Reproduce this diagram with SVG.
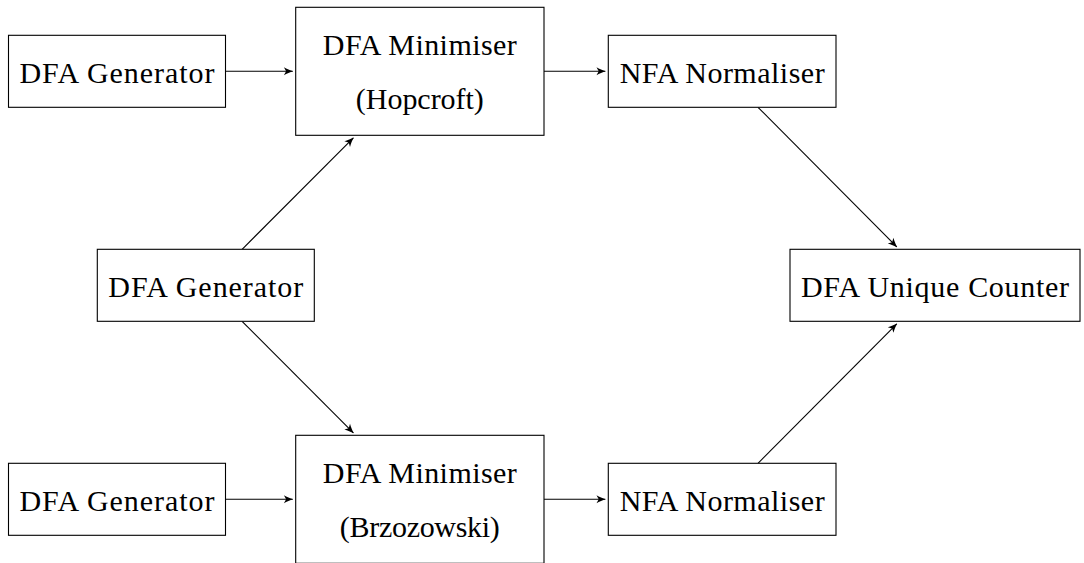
<svg xmlns="http://www.w3.org/2000/svg" width="1084" height="563" viewBox="0 0 1084 563">
  <style>
    .box { fill: #ffffff; stroke: #000000; stroke-width: 1.1; }
    .lbl { font-family: 'Liberation Serif', 'Times New Roman', serif; font-size: 30px; fill: #000000; text-anchor: middle; }
    .edge { fill: none; stroke: #000000; stroke-width: 1.1; marker-end: url(#tip); }
  </style>
  <defs>
    <!-- curved barb arrowhead, drawn in user units so it keeps its size -->
    <marker id="tip" markerUnits="userSpaceOnUse" markerWidth="14" markerHeight="12" viewBox="-11 -6 14 12" refX="0" refY="0" orient="auto">
      <path d="M0.4,0 C-2.5,-0.9 -6,-2.4 -8.8,-4 L-6.6,0 L-8.8,4 C-6,2.4 -2.5,0.9 0.4,0 Z" fill="#000000"/>
    </marker>
  </defs>

  <rect width="1084" height="563" fill="#ffffff"/>

  <!-- connectors -->
  <g id="edges">
    <path class="edge" d="M225.7,71.3 L292.7,71.3"/>
    <path class="edge" d="M544,71.3 L605.3,71.3"/>
    <path class="edge" d="M225.7,499.3 L292.7,499.3"/>
    <path class="edge" d="M544,499.3 L605.3,499.3"/>
    <path class="edge" d="M242.1,249.3 L353.4,137.9"/>
    <path class="edge" d="M242.1,321.3 L353.4,432.9"/>
    <path class="edge" d="M758,107.3 L896.8,246.9"/>
    <path class="edge" d="M758,463.3 L896.8,323.8"/>
  </g>

  <!-- upper row -->
  <g id="gen-top">
    <rect class="box" x="8.5" y="35.3" width="217" height="72"/>
    <text class="lbl" x="117" y="82.7" textLength="195">DFA Generator</text>
  </g>
  <g id="min-hopcroft">
    <rect class="box" x="295.7" y="7.3" width="248.3" height="128"/>
    <text class="lbl" x="419.85" y="55.3" textLength="194">DFA Minimiser</text>
    <text class="lbl" x="419.85" y="109.3" textLength="128">(Hopcroft)</text>
  </g>
  <g id="norm-top">
    <rect class="box" x="608.3" y="35.3" width="227.7" height="72"/>
    <text class="lbl" x="722.15" y="82.7" textLength="205">NFA Normaliser</text>
  </g>

  <!-- middle row -->
  <g id="gen-mid">
    <rect class="box" x="97.3" y="249.3" width="217" height="72"/>
    <text class="lbl" x="205.8" y="296.7" textLength="195">DFA Generator</text>
  </g>
  <g id="counter">
    <rect class="box" x="790" y="249.3" width="290" height="72"/>
    <text class="lbl" x="935" y="296.7" textLength="268">DFA Unique Counter</text>
  </g>

  <!-- lower row -->
  <g id="gen-bottom">
    <rect class="box" x="8.5" y="463.3" width="217" height="72"/>
    <text class="lbl" x="117" y="510.7" textLength="195">DFA Generator</text>
  </g>
  <g id="min-brzozowski">
    <rect class="box" x="295.7" y="435.3" width="248.3" height="128"/>
    <text class="lbl" x="419.85" y="483.3" textLength="194">DFA Minimiser</text>
    <text class="lbl" x="419.85" y="537.3" textLength="160">(Brzozowski)</text>
  </g>
  <g id="norm-bottom">
    <rect class="box" x="608.3" y="463.3" width="227.7" height="72"/>
    <text class="lbl" x="722.15" y="510.7" textLength="205">NFA Normaliser</text>
  </g>
</svg>
